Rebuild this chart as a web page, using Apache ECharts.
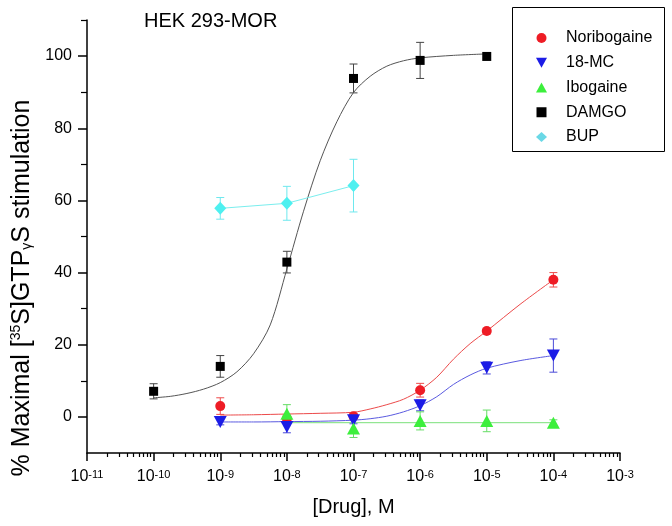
<!DOCTYPE html>
<html><head><meta charset="utf-8">
<script src="https://cdn.jsdelivr.net/npm/echarts@6/dist/echarts.min.js"></script>
<style>html,body{margin:0;padding:0;background:#fff}#c{width:672px;height:526px}</style>
</head><body><div id="c"></div>
<script>
// ---- tick labels / axis values (log10 of concentration, M) ----
const xTickExp = [-11,-10,-9,-8,-7,-6,-5,-4,-3];
const xMinorMult = [2,3,4,5,6,7,8,9];
const yMajorTicks = [0,20,40,60,80,100];
const yMinorTicks = [10,30,50,70,90,110];

// ---- data points (x = log10[Drug]) ----
const noriX = [-9,-8,-7,-6,-5,-4];
const noriY = [3.0,-0.5,0.2,7.4,23.8,38.0];
const noriErr = [2.3,1.0,0.8,1.9,0.8,2.0];

const mcX = [-9,-8,-7,-6,-5,-4];
const mcY = [-1.4,-2.8,-0.9,3.2,13.6,17.0];
const mcErr = [0.8,1.6,1.0,1.5,1.7,4.6];

const iboX = [-8,-7,-6,-5,-4];
const iboY = [0.9,-3.2,-1.1,-1.1,-1.6];
const iboErr = [2.5,2.5,2.5,3.0,0.8];

const damgoX = [-10,-9,-8,-7,-6,-5];
const damgoY = [7.1,14.0,42.9,93.8,98.8,99.9];
const damgoErr = [2.1,3.0,3.0,4.0,5.0,0];

const bupX = [-9,-8,-7];
const bupY = [57.8,59.2,64.1];
const bupErr = [3.0,4.7,7.3];

// ---- fitted curves ----
const damgoFitX = [-10,-9.75,-9.5,-9.25,-9,-8.75,-8.5,-8.25,-8,-7.75,-7.5,-7.25,-7,-6.75,-6.5,-6.25,-6,-5.5,-5];
const damgoFitY = [5.3,5.7,6.5,7.7,9.5,12.5,17.5,25.5,41,57,71,81.8,89.9,94.4,97.2,98.7,99.5,100.2,100.6];

const noriFitX = [-9,-8.5,-8,-7.5,-7,-6.75,-6.5,-6.25,-6,-5.75,-5.5,-5.25,-5,-4.5,-4];
const noriFitY = [0.5,0.6,0.8,1.0,1.3,2.2,3.4,4.9,7.4,11.0,16.0,20.3,23.8,31.2,38.0];

const mcFitX = [-9,-8.5,-8,-7.5,-7,-6.75,-6.5,-6.25,-6,-5.75,-5.5,-5.25,-5,-4.5,-4];
const mcFitY = [-1.4,-1.4,-1.3,-1.2,-0.9,-0.5,0.2,1.4,3.1,5.6,9.0,11.6,13.5,15.6,17.0];

const iboFitX = [-8,-7,-6,-5,-4];
const iboFitY = [-1.6,-1.6,-1.6,-1.6,-1.6];

const FONT = '"Liberation Sans", Arial, sans-serif';

const xMinorTicks = [];
for (let i = 0; i < xTickExp.length - 1; i++) {
  for (const m of xMinorMult) xMinorTicks.push(xTickExp[i] + Math.log10(m));
}

function pts(xs, ys) { return xs.map((x, i) => [x, ys[i]]); }

function errSeries(xs, ys, es, color) {
  const data = [];
  xs.forEach((x, i) => { if (es[i] > 0) data.push([x, ys[i] - es[i], ys[i] + es[i]]); });
  return {
    type: 'custom', silent: true, z: 1, xAxisIndex: 0, yAxisIndex: 0,
    data: data, encode: { x: 0, y: [1, 2] },
    renderItem: function (params, api) {
      const lo = api.coord([api.value(0), api.value(1)]);
      const hi = api.coord([api.value(0), api.value(2)]);
      const w = 4;
      const st = { stroke: color, lineWidth: 1 };
      return { type: 'group', children: [
        { type: 'line', shape: { x1: lo[0], y1: lo[1], x2: hi[0], y2: hi[1] }, style: st },
        { type: 'line', shape: { x1: lo[0] - w, y1: lo[1], x2: lo[0] + w, y2: lo[1] }, style: st },
        { type: 'line', shape: { x1: hi[0] - w, y1: hi[1], x2: hi[0] + w, y2: hi[1] }, style: st }
      ]};
    }
  };
}

function fitSeries(name, xs, ys, color, smooth) {
  return { type: 'line', name: name, data: pts(xs, ys), showSymbol: false, symbol: 'none',
    smooth: smooth, lineStyle: { color: color, width: 1 }, z: 2, silent: true,
    xAxisIndex: 0, yAxisIndex: 0 };
}

function markSeries(name, xs, ys, color, symbol, size, rotate) {
  return { type: 'scatter', name: name, data: pts(xs, ys), symbol: symbol, symbolSize: size,
    symbolRotate: rotate || 0, itemStyle: { color: color, opacity: 1 }, z: 3,
    xAxisIndex: 0, yAxisIndex: 0 };
}

const C = { red: '#ee1c25', blue: '#1c1ce6', green: '#3cef3c', black: '#000000', cyan: '#4ef0f0' };

const chart = echarts.init(document.getElementById('c'), null, { renderer: 'canvas' });
chart.setOption({
  animation: false,
  backgroundColor: '#ffffff',
  textStyle: { fontFamily: FONT },
  grid: { left: 87, right: 52, top: 20, bottom: 73, containLabel: false },
  xAxis: [
    { type: 'value', min: -11, max: -3, interval: 1, position: 'bottom',
      axisLine: { show: true, onZero: false, lineStyle: { color: '#000', width: 1.5 } },
      axisTick: { show: true, length: 8, lineStyle: { color: '#000', width: 1.5 } },
      splitLine: { show: false },
      axisLabel: { show: true, margin: 16, color: '#000',
        formatter: function (v) { return '{b|10}{s|' + Math.round(v) + '}'; },
        rich: { b: { fontSize: 16, fontFamily: FONT, color: '#000' },
                s: { fontSize: 11, fontFamily: FONT, color: '#000', verticalAlign: 'top' } } },
      name: '[Drug], M', nameLocation: 'middle', nameGap: 44,
      nameTextStyle: { fontSize: 20, fontFamily: FONT, color: '#000' } },
    { type: 'value', min: -11, max: -3, position: 'bottom',
      axisLine: { show: false, onZero: false },
      axisTick: { show: true, length: 4, customValues: xMinorTicks, lineStyle: { color: '#000', width: 1.2 } },
      axisLabel: { show: false }, splitLine: { show: false } }
  ],
  yAxis: [
    { type: 'value', min: -10, max: 110, position: 'left',
      axisLine: { show: true, onZero: false, lineStyle: { color: '#000', width: 1.5 } },
      axisTick: { show: true, length: 9, customValues: yMajorTicks, lineStyle: { color: '#000', width: 1.5 } },
      axisLabel: { show: true, customValues: yMajorTicks, margin: 15, fontSize: 16, color: '#000', fontFamily: FONT },
      splitLine: { show: false } },
    { type: 'value', min: -10, max: 110, position: 'left', offset: 0,
      axisLine: { show: false, onZero: false },
      axisTick: { show: true, length: 6, customValues: yMinorTicks, lineStyle: { color: '#000', width: 1.2 } },
      axisLabel: { show: false }, splitLine: { show: false } }
  ],
  legend: {
    orient: 'vertical', left: 531, top: 25,
    itemWidth: 11, itemHeight: 10, itemGap: 8.75,
    textStyle: { fontSize: 16, fontFamily: FONT, color: '#000', lineHeight: 16, padding: [0, 0, 0, 14] },
    data: [
      { name: 'Noribogaine' },
      { name: '18-MC', icon: 'path://M0,0L2,0L1,1.8Z' },
      { name: 'Ibogaine' },
      { name: 'DAMGO', icon: 'path://M0,0H1V1H0Z' },
      { name: 'BUP', itemStyle: { color: '#6ad8e6' } }
    ]
  },
  graphic: [
    { type: 'rect', shape: { x: 512.5, y: 7.5, width: 152, height: 144 },
      style: { fill: 'none', stroke: '#000', lineWidth: 1 }, z: 10, silent: true },
    { type: 'text', x: 144, y: 21.5, silent: true,
      style: { text: 'HEK 293-MOR', font: '20px ' + FONT, fill: '#000', align: 'left', verticalAlign: 'middle' } },
    { type: 'text', x: 22, y: 288, rotation: Math.PI / 2, silent: true,
      style: { text: '% Maximal [{sup|35}S]GTP{sub|γ}S stimulation',
        fontSize: 25, fontFamily: FONT, fill: '#000', align: 'center', verticalAlign: 'middle',
        rich: { sup: { fontSize: 14, fontFamily: FONT, fill: '#000', verticalAlign: 'top' },
                sub: { fontSize: 14, fontFamily: FONT, fill: '#000', verticalAlign: 'bottom' } } } }
  ],
  series: [
    errSeries(damgoX, damgoY, damgoErr, '#444444'),
    errSeries(bupX, bupY, bupErr, '#6ee8ee'),
    errSeries(noriX, noriY, noriErr, '#ee4a4a'),
    errSeries(mcX, mcY, mcErr, '#4a4ad8'),
    errSeries(iboX, iboY, iboErr, '#66dd66'),
    fitSeries('damgoFit', damgoFitX, damgoFitY, '#555555', 0.3),
    fitSeries('bupLine', bupX, bupY, '#7aeeee', false),
    fitSeries('noriFit', noriFitX, noriFitY, '#ec4a4a', 0.3),
    fitSeries('mcFit', mcFitX, mcFitY, '#5a5ae0', 0.3),
    fitSeries('iboFit', iboFitX, iboFitY, '#7ae07a', false),
    markSeries('Noribogaine', noriX, noriY, C.red, 'circle', 10),
    markSeries('18-MC', mcX, mcY, C.blue, 'triangle', [13, 12], 180),
    markSeries('Ibogaine', iboX, iboY, C.green, 'triangle', [13, 12]),
    markSeries('DAMGO', damgoX, damgoY, C.black, 'rect', 9),
    markSeries('BUP', bupX, bupY, C.cyan, 'diamond', [12, 13])
  ]
});
</script>
</body></html>
